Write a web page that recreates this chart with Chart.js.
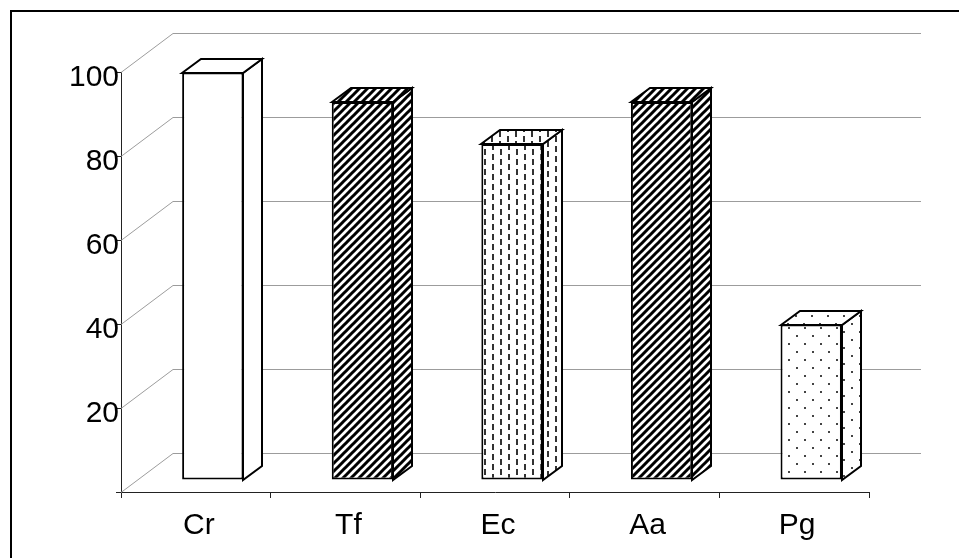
<!DOCTYPE html>
<html>
<head>
<meta charset="utf-8">
<script src="https://cdn.jsdelivr.net/npm/chart.js@4.4.1/dist/chart.umd.min.js"></script>
<style>
  html, body { margin: 0; padding: 0; background: #fff; }
  canvas { display: block; }
</style>
</head>
<body>
<canvas id="chart" width="959" height="558"></canvas>
<script>
// Data
const categories = ['Cr', 'Tf', 'Ec', 'Aa', 'Pg'];
const values = [97, 90, 80, 90, 37];
const fillKinds = ['plain', 'hatch', 'dash', 'hatch', 'dots'];
const yTickStep = 20;
const yMax = 100;

// 3D projection: depth vector of the floor/walls, and the share of it a box takes
const DEPTH = { x: 52, y: -39 };
const BOX_DEPTH = 0.365;
const FRONT_GAP = (1 - BOX_DEPTH) / 2;

const FONT = { family: "'Liberation Sans', Arial, sans-serif", size: 30 };

function makePattern(kind) {
  const c = document.createElement('canvas');
  const g = c.getContext('2d');
  if (kind === 'hatch') {
    c.width = 8; c.height = 8;
    g.fillStyle = '#fff'; g.fillRect(0, 0, 8, 8);
    g.strokeStyle = '#000'; g.lineWidth = 3;
    g.beginPath();
    for (let k = -1; k <= 1; k++) {
      g.moveTo(k * 8 - 2, 10);
      g.lineTo(k * 8 + 10, -2);
    }
    g.stroke();
  } else if (kind === 'dash') {
    c.width = 16; c.height = 10;
    g.fillStyle = '#fff'; g.fillRect(0, 0, 16, 10);
    g.fillStyle = '#333';
    g.fillRect(3, 1, 2, 6);
    g.fillRect(11, 6, 2, 4);
    g.fillRect(11, 0, 2, 2);
  } else if (kind === 'dots') {
    c.width = 16; c.height = 16;
    g.fillStyle = '#fff'; g.fillRect(0, 0, 16, 16);
    g.fillStyle = '#444';
    g.fillRect(3, 3, 2, 2);
    g.fillRect(11, 11, 2, 2);
  } else {
    return '#fff';
  }
  return g.createPattern(c, 'repeat');
}

const fills = fillKinds.map(makePattern);

function poly(ctx, pts) {
  ctx.beginPath();
  ctx.moveTo(pts[0][0], pts[0][1]);
  for (let i = 1; i < pts.length; i++) ctx.lineTo(pts[i][0], pts[i][1]);
  ctx.closePath();
  ctx.fill();
  ctx.stroke();
}

const box3d = {
  id: 'box3d',
  beforeDraw(chart) {
    // outer frame (top and left edges)
    const { ctx } = chart;
    ctx.save();
    ctx.strokeStyle = '#000';
    ctx.lineWidth = 2;
    ctx.beginPath();
    ctx.moveTo(11, chart.height + 2);
    ctx.lineTo(11, 11);
    ctx.lineTo(chart.width + 2, 11);
    ctx.stroke();
    ctx.restore();
  },
  beforeDatasetsDraw(chart) {
    const { ctx, chartArea: a, scales: { y } } = chart;
    // side wall diagonals and back wall gridlines
    ctx.save();
    ctx.lineWidth = 1;
    ctx.strokeStyle = '#9c9c9c';
    y.ticks.forEach(t => {
      const py = Math.round(y.getPixelForValue(t.value)) + 0.5;
      ctx.beginPath();
      ctx.moveTo(a.left, py);
      ctx.lineTo(a.left + DEPTH.x, py + DEPTH.y);
      ctx.lineTo(a.right + DEPTH.x, py + DEPTH.y);
      ctx.stroke();
    });
    ctx.restore();
    // front faces sit part-way into the depth
    ctx.save();
    ctx.translate(Math.round(DEPTH.x * FRONT_GAP), Math.round(DEPTH.y * FRONT_GAP));
  },
  afterDatasetsDraw(chart) {
    const { ctx } = chart;
    ctx.restore();
    const ox = Math.round(DEPTH.x * FRONT_GAP), oy = Math.round(DEPTH.y * FRONT_GAP);
    const bx = Math.round(DEPTH.x * BOX_DEPTH), by = Math.round(DEPTH.y * BOX_DEPTH);
    const meta = chart.getDatasetMeta(0);
    ctx.save();
    ctx.strokeStyle = '#000';
    ctx.lineWidth = 2;
    ctx.lineJoin = 'miter';
    meta.data.forEach((bar, i) => {
      const { x, y, base, width } = bar.getProps(['x', 'y', 'base', 'width'], true);
      const L = Math.round(x - width / 2) + ox, R = Math.round(x + width / 2) + ox;
      const T = Math.round(y) + oy, B = Math.round(base) + oy;
      ctx.fillStyle = fills[i];
      poly(ctx, [[R, T], [R + bx, T + by], [R + bx, B + by], [R, B]]);
      poly(ctx, [[L, T], [L + bx, T + by], [R + bx, T + by], [R, T]]);
    });
    ctx.restore();
  }
};

new Chart(document.getElementById('chart'), {
  type: 'bar',
  data: {
    labels: categories,
    datasets: [{
      data: values,
      backgroundColor: fills,
      borderColor: '#000',
      borderWidth: 2,
      borderSkipped: false,
      categoryPercentage: 1,
      barPercentage: 0.41,
      clip: false
    }]
  },
  options: {
    responsive: false,
    animation: false,
    events: [],
    layout: { padding: { left: 0, top: 72, right: 90, bottom: 0 } },
    plugins: { legend: { display: false }, tooltip: { enabled: false } },
    scales: {
      x: {
        offset: true,
        grid: { drawOnChartArea: false, tickLength: 6, color: '#222', offset: true },
        border: { color: '#222', width: 1 },
        ticks: { font: FONT, color: '#000', padding: 10, labelOffset: 3 },
        afterFit(s) { s.height = 66; }
      },
      y: {
        min: 0,
        max: yMax,
        grid: { drawOnChartArea: false, tickLength: 5, color: '#222' },
        border: { color: '#222', width: 1 },
        ticks: {
          stepSize: yTickStep,
          font: FONT,
          color: '#000',
          padding: -3,
          labelOffset: 6,
          callback: v => (v === 0 ? '' : v)
        },
        afterFit(s) { s.width = 121; }
      }
    }
  },
  plugins: [box3d]
});
</script>
</body>
</html>
